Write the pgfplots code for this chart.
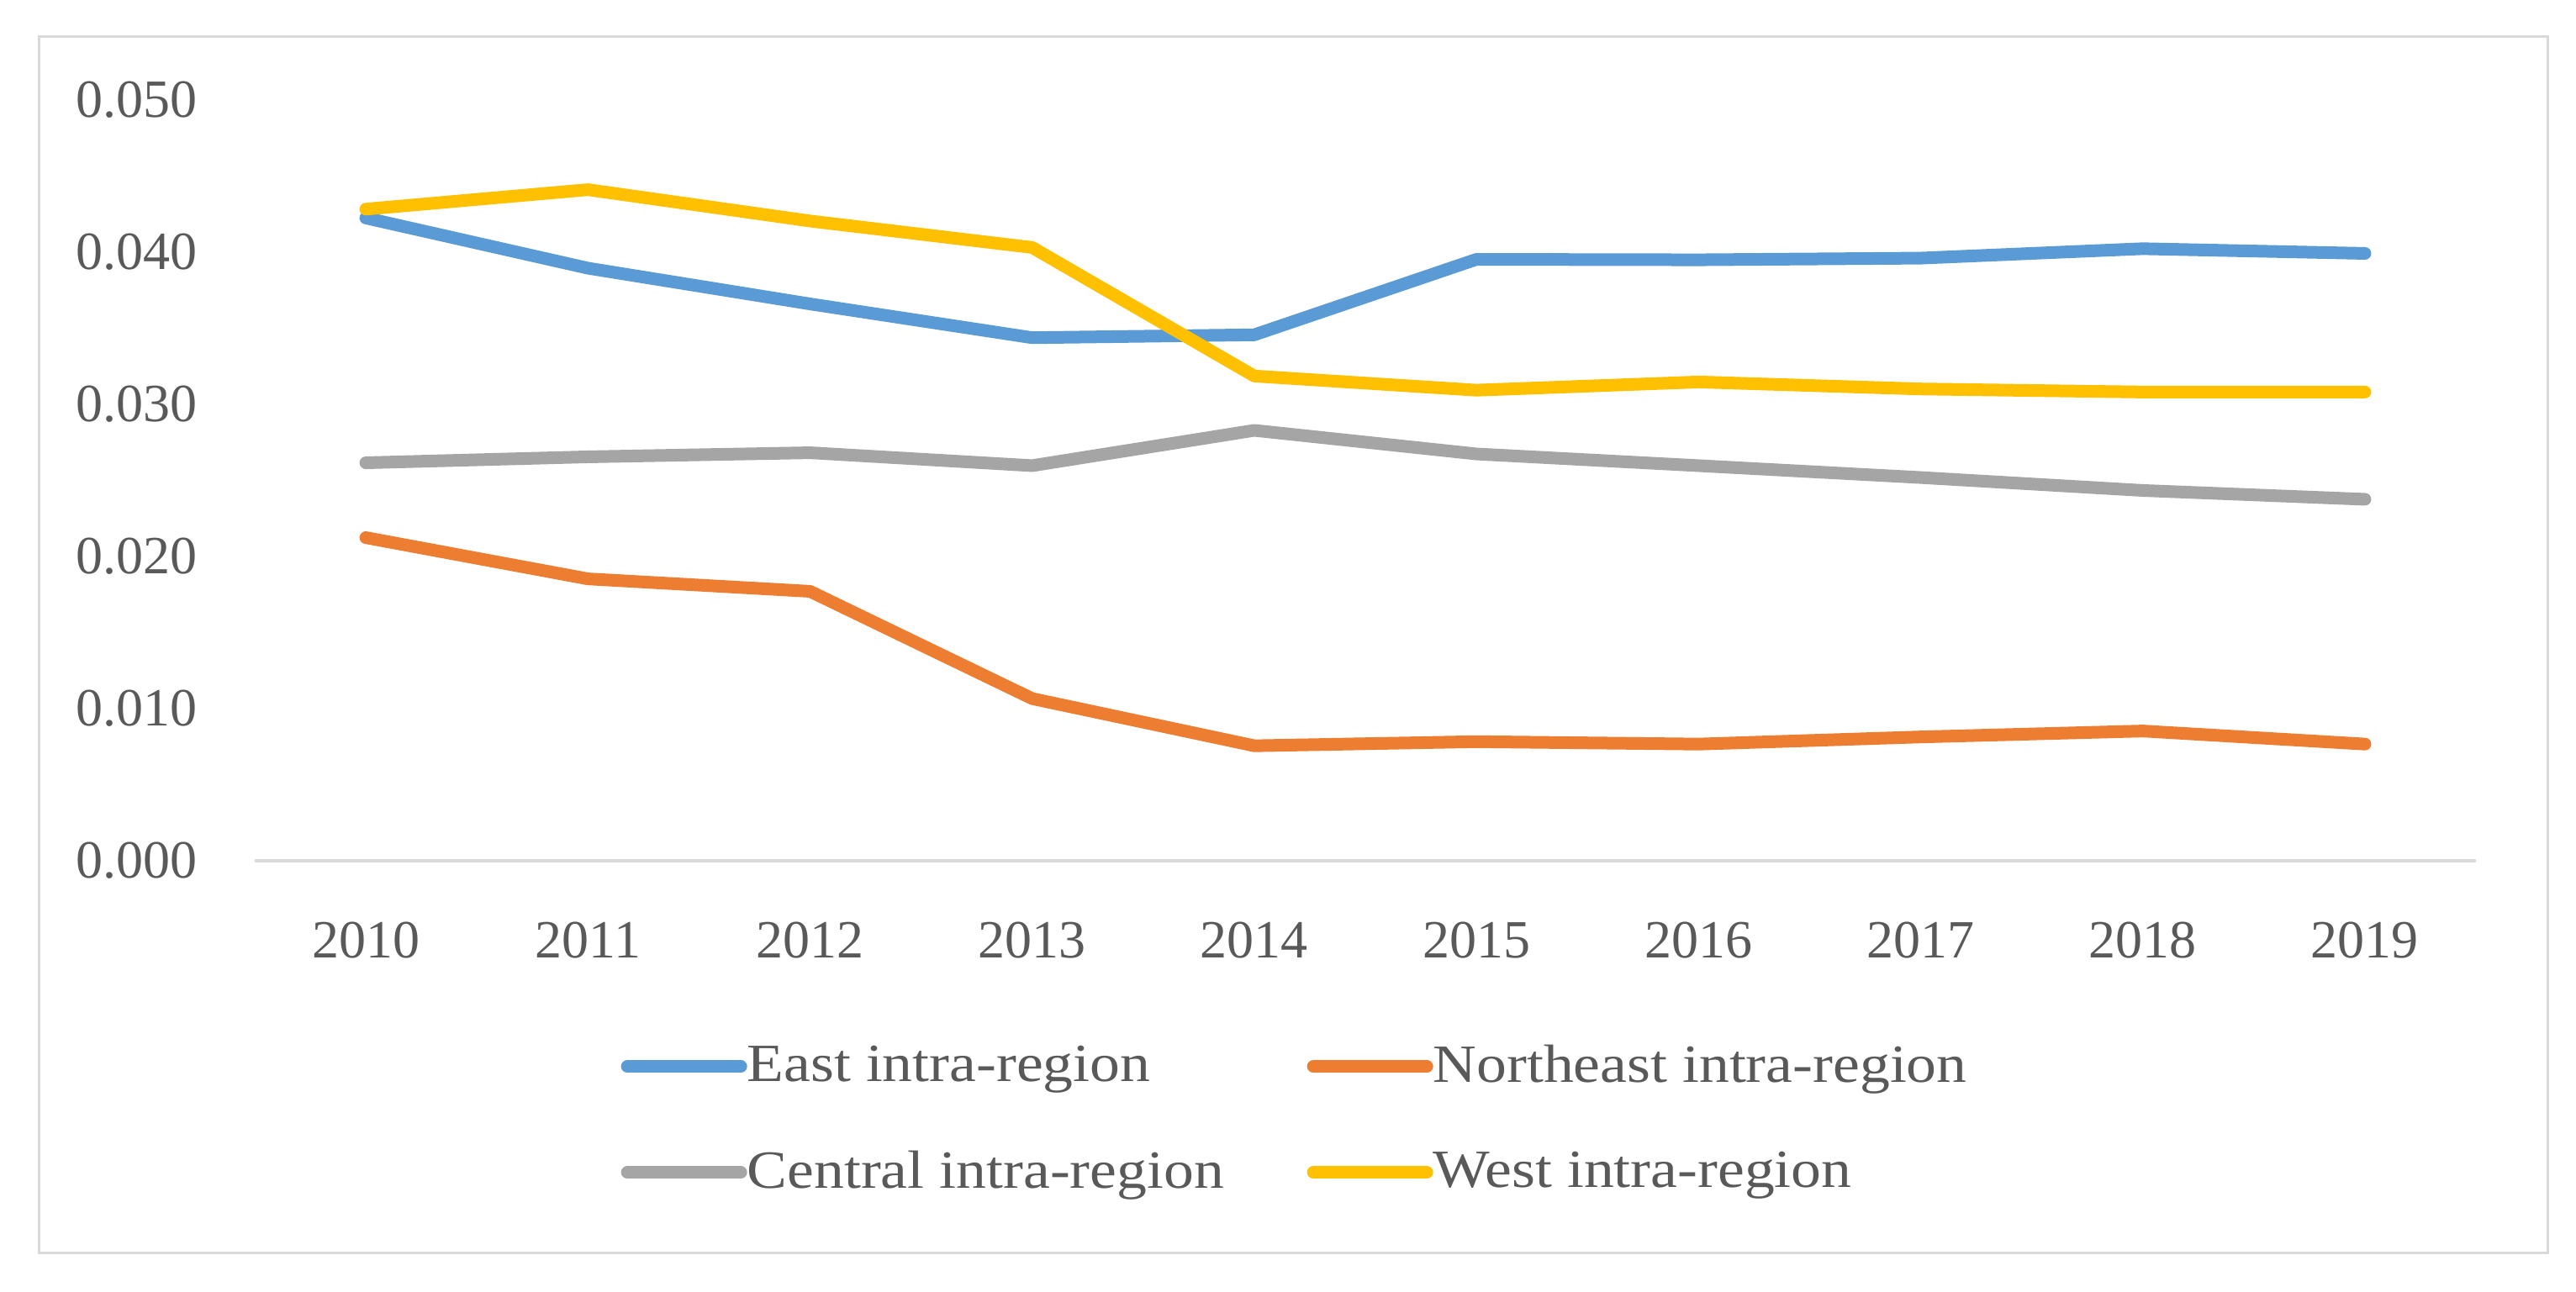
\documentclass[border=0pt]{standalone}
\usepackage{fontspec}
\setmainfont{Liberation Serif}
\newfontfamily\legfont[FakeStretch=1.12]{Liberation Serif}
\usepackage{pgfplots}
\pgfplotsset{compat=1.18}
\definecolor{cblue}{HTML}{5B9BD5}
\definecolor{corange}{HTML}{ED7D31}
\definecolor{cgray}{HTML}{A5A5A5}
\definecolor{cgold}{HTML}{FFC000}
\definecolor{ctext}{HTML}{595959}
\definecolor{cline}{HTML}{D9D9D9}
\newcommand{\lf}{\fontsize{16pt}{18pt}\selectfont}
\newcommand{\lgf}{\legfont\fontsize{16pt}{18pt}\selectfont}
\begin{document}
\begin{tikzpicture}
\path[fill=white,use as bounding box] (-75.75pt,-128pt) rectangle (690.25pt,256pt);
\draw[cline, line width=0.75pt] (-64pt,-116.5pt) rectangle (681.75pt,245.25pt);
\begin{axis}[
  scale only axis, width=660.5pt, height=226.25pt,
  xmin=-0.5, xmax=9.5, ymin=0, ymax=0.05,
  axis x line*=bottom, axis y line*=left,
  x axis line style={draw=cline, line width=1pt, -},
  y axis line style={draw=none},
  major tick length=0pt,
  xtick={0,1,2,3,4,5,6,7,8,9},
  xticklabels={2010,2011,2012,2013,2014,2015,2016,2017,2018,2019},
  ytick={0,0.01,0.02,0.03,0.04,0.05},
  scaled y ticks=false,
  /pgf/number format/assume math mode=true,
  yticklabel style={/pgf/number format/fixed, /pgf/number format/precision=3, /pgf/number format/fixed zerofill, anchor=east, inner sep=0pt, xshift=-17pt},
  xticklabel style={anchor=north, inner sep=0pt, yshift=-18pt},
  tick label style={font=\lf, text=ctext},
  every axis plot/.append style={line width=3.75pt, line cap=round, line join=round, mark=none},
  legend columns=2,
  legend cell align=left,
  legend style={at={(0.1646,-0.2417)}, anchor=north west, draw=none, fill=none, font=\lgf, text=ctext, inner sep=0pt, row sep=18.9pt, nodes={inner sep=0pt}},
  legend image code/.code={\draw[#1] (1.75pt,0pt) -- (35.5pt,0pt);},
]
\addplot[cblue] coordinates {(0,0.04225) (1,0.03895) (2,0.0366) (3,0.03438) (4,0.03457) (5,0.03953) (6,0.03950) (7,0.03961) (8,0.04023) (9,0.03992)};
\addlegendentry{\makebox[166.5pt][l]{East intra-region}}
\addplot[corange] coordinates {(0,0.02124) (1,0.01853) (2,0.01771) (3,0.01066) (4,0.00756) (5,0.00783) (6,0.00767) (7,0.00814) (8,0.00853) (9,0.00767)};
\addlegendentry{Northeast intra-region}
\addplot[cgray] coordinates {(0,0.02616) (1,0.02655) (2,0.02682) (3,0.02597) (4,0.02829) (5,0.02674) (6,0.02597) (7,0.02519) (8,0.02434) (9,0.02376)};
\addlegendentry{\makebox[166.5pt][l]{Central intra-region}}
\addplot[cgold] coordinates {(0,0.04283) (1,0.04411) (2,0.04205) (3,0.04031) (4,0.03186) (5,0.03093) (6,0.03147) (7,0.03101) (8,0.03081) (9,0.03081)};
\addlegendentry{West intra-region}
\end{axis}
\end{tikzpicture}
\end{document}
